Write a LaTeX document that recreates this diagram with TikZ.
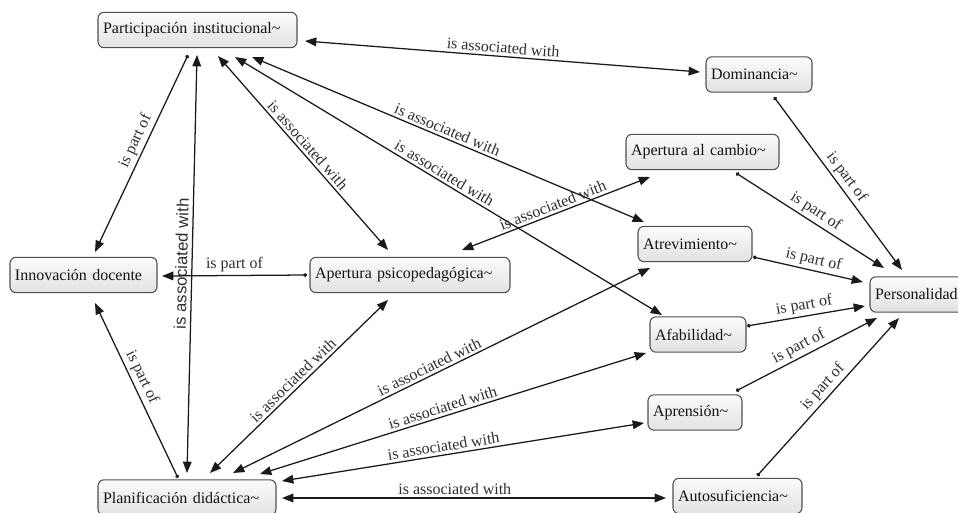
\documentclass[tikz,border=0pt]{standalone}
\usepackage{fontspec}
\setmainfont{Liberation Serif}
\newfontfamily\lsans{Liberation Sans}
\usetikzlibrary{arrows.meta}
\definecolor{edgec}{HTML}{1A1A1A}
\definecolor{labc}{HTML}{2E2E2E}
\definecolor{boxline}{HTML}{505050}
\definecolor{boxtop}{HTML}{FBFBFB}
\definecolor{boxbot}{HTML}{E2E2E2}
\tikzset{
  cbox/.style={draw=boxline, line width=0.8pt, rounded corners=4.5pt, top color=boxtop, bottom color=boxbot,
    align=left, inner xsep=3.75pt, inner ysep=0pt, minimum height=26.5pt,
    font=\fontsize{12pt}{14pt}\selectfont, text=black!92},
  lnk/.style={draw=edgec, line width=0.95pt},
  dbl/.style={lnk, {Triangle[length=8.5pt,width=6.5pt]}-{Triangle[length=8.5pt,width=6.5pt]}},
  uni/.style={lnk, {Circle[length=2.8pt]}-{Triangle[length=8.5pt,width=6.5pt]}},
  lab/.style={sloped, above, inner sep=2pt, text=labc, font=\fontsize{12pt}{14pt}\selectfont},
  vlab/.style={sloped, above, inner sep=3pt, text=labc, font=\lsans\fontsize{12.5pt}{14pt}\selectfont}
}
\begin{document}
\begin{tikzpicture}[x={(0.75pt,0)}, y={(0,-0.75pt)}]
\useasboundingbox (0,0) rectangle (958,513);
% nodes
\node[cbox, text width=141.75pt] (part)  at (197.5,30)  {Participación institucional\textasciitilde};
\node[cbox, text width=72pt]     (dom)   at (759,74.5)  {Dominancia\textasciitilde};
\node[cbox, text width=107.25pt] (apcam) at (702.5,152) {Apertura al cambio\textasciitilde};
\node[cbox, text width=78pt]     (atrev) at (695,244)   {Atrevimiento\textasciitilde};
\node[cbox, text width=102.75pt] (innov) at (83.5,275)  {Innovación docente};
\node[cbox, text width=142.5pt]  (appsi) at (410,275)   {Apertura psicopedagógica\textasciitilde};
\node[cbox, text width=63.75pt]  (pers)  at (917.5,294.5) {Personalidad};
\node[cbox, text width=64.5pt]   (afab)  at (698,334.5) {Afabilidad\textasciitilde};
\node[cbox, text width=63pt]     (apren) at (695,412.5) {Aprensión\textasciitilde};
\node[cbox, text width=126pt]    (plan)  at (187,497.5) {Planificación didáctica\textasciitilde};
\node[cbox, text width=89.25pt]  (autos) at (737.5,496) {Autosuficiencia\textasciitilde};
% connectors
\draw[uni] ([shift={(-9.5,25)}]part.center) -- node[lab,pos=0.46]{is part of} ([shift={(11.5,-23)}]innov.center);
\draw[dbl] ([shift={(0,-24.5)}]plan.center) -- node[vlab,pos=0.5]{is associated with} ([shift={(-0.5,25)}]part.center);
\draw[dbl] ([shift={(20.5,26)}]part.center) -- node[lab,pos=0.49]{is associated with} ([shift={(-22,-25)}]appsi.center);
\draw[dbl] ([shift={(54.5,27)}]part.center) -- node[lab,pos=0.49]{is associated with} ([shift={(-51,-22)}]atrev.center);
\draw[dbl] ([shift={(37.5,27)}]part.center) -- node[lab,pos=0.48]{is associated with} ([shift={(-36,-19.5)}]afab.center);
\draw[dbl] ([shift={(107.5,11)}]part.center) -- node[lab,pos=0.5]{is associated with} ([shift={(-59,-2.5)}]dom.center);
\draw[uni] ([shift={(-103,0)}]appsi.center) -- node[lab,pos=0.5]{is part of} ([shift={(78.5,1)}]innov.center);
\draw[dbl] ([shift={(52,-25)}]appsi.center) -- node[lab,pos=0.5]{is associated with} ([shift={(-52.5,25)}]apcam.center);
\draw[uni] ([shift={(-9,-19.5)}]plan.center) -- node[lab,pos=0.55]{is part of} ([shift={(11.5,28)}]innov.center);
\draw[dbl] ([shift={(23,-24.5)}]plan.center) -- node[lab,pos=0.5]{is associated with} ([shift={(-22,25)}]appsi.center);
\draw[dbl] ([shift={(46,-24.5)}]plan.center) -- node[lab,pos=0.48]{is associated with} ([shift={(-45,24)}]atrev.center);
\draw[dbl] ([shift={(73,-23.5)}]plan.center) -- node[lab,pos=0.48]{is associated with} ([shift={(-52,18.5)}]afab.center);
\draw[dbl] ([shift={(95,-16.5)}]plan.center) -- node[lab,pos=0.45]{is associated with} ([shift={(-51,10.5)}]apren.center);
\draw[dbl] ([shift={(95,0.5)}]plan.center) -- node[lab,pos=0.45]{is associated with} ([shift={(-71.5,2)}]autos.center);
\draw[uni] ([shift={(15,22.5)}]dom.center) -- node[lab,pos=0.5]{is part of} ([shift={(-15.5,-24.5)}]pers.center);
\draw[uni] ([shift={(33.5,21)}]apcam.center) -- node[lab,pos=0.5]{is part of} ([shift={(-33.5,-26.5)}]pers.center);
\draw[uni] ([shift={(58,13)}]atrev.center) -- node[lab,pos=0.53]{is part of} ([shift={(-54.5,-12.5)}]pers.center);
\draw[uni] ([shift={(49,-8.5)}]afab.center) -- node[lab,pos=0.5]{is part of} ([shift={(-52.5,11.5)}]pers.center);
\draw[uni] ([shift={(41,-21.5)}]apren.center) -- node[lab,pos=0.48]{is part of} ([shift={(-40.5,23.5)}]pers.center);
\draw[uni] ([shift={(19.5,-20)}]autos.center) -- node[lab,pos=0.52]{is part of} ([shift={(-18.5,23.5)}]pers.center);
\end{tikzpicture}
\end{document}
